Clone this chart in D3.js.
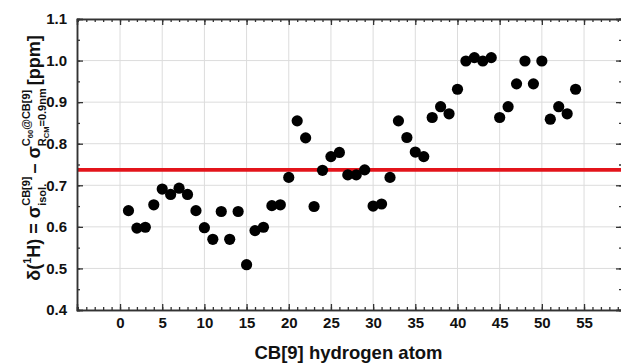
<!DOCTYPE html>
<html>
<head>
<meta charset="utf-8">
<script src="https://cdn.jsdelivr.net/npm/d3@7"></script>
<style>
  body { margin: 0; background: #fff; }
  svg text { font-family: "Liberation Sans", Arial, sans-serif; font-weight: bold; }
</style>
</head>
<body>
<script>
// data
const atoms = [1, 2, 3, 4, 5, 6, 7, 8, 9, 10, 11, 12, 13, 14, 15, 16, 17, 18,
  19, 20, 21, 22, 23, 24, 25, 26, 27, 28, 29, 30, 31, 32, 33, 34, 35, 36,
  37, 38, 39, 40, 41, 42, 43, 44, 45, 46, 47, 48, 49, 50, 51, 52, 53, 54];
const shifts = [0.639, 0.597, 0.599, 0.653, 0.691, 0.678, 0.693, 0.678, 0.639,
  0.598, 0.570, 0.637, 0.570, 0.637, 0.509, 0.591, 0.599, 0.651, 0.653, 0.719,
  0.855, 0.814, 0.649, 0.736, 0.769, 0.779, 0.725, 0.725, 0.737, 0.650, 0.655,
  0.719, 0.855, 0.815, 0.780, 0.769, 0.863, 0.889, 0.872, 0.931, 0.999, 1.007,
  0.999, 1.007, 0.863, 0.889, 0.944, 0.999, 0.944, 0.999, 0.859, 0.889, 0.872,
  0.931];
const meanShift = 0.737;
const xTicks = [0, 5, 10, 15, 20, 25, 30, 35, 40, 45, 50, 55];
const yTicks = [0.4, 0.5, 0.6, 0.7, 0.8, 0.9, 1.0, 1.1];

const width = 621;
const height = 364;
const plot = { left: 77, right: 622, top: 19, bottom: 310 };

const x = d3.scaleLinear().domain([-5.1, 59.5]).range([plot.left, plot.right]);
const y = d3.scaleLinear().domain([0.4, 1.1]).range([plot.bottom, plot.top]);

const svg = d3.select('body').append('svg')
  .attr('width', width)
  .attr('height', height);

// grid
svg.append('g')
  .selectAll('line')
  .data(xTicks)
  .join('line')
  .attr('x1', (d) => x(d)).attr('x2', (d) => x(d))
  .attr('y1', plot.top).attr('y2', plot.bottom)
  .attr('stroke', '#dcdcdc');
svg.append('g')
  .selectAll('line')
  .data(yTicks)
  .join('line')
  .attr('x1', plot.left).attr('x2', plot.right)
  .attr('y1', (d) => y(d)).attr('y2', (d) => y(d))
  .attr('stroke', '#dcdcdc');

// mean line
svg.append('line')
  .attr('x1', plot.left).attr('x2', plot.right)
  .attr('y1', y(meanShift)).attr('y2', y(meanShift))
  .attr('stroke', '#e3141b')
  .attr('stroke-width', 3.8);

// points
svg.append('g')
  .selectAll('circle')
  .data(atoms)
  .join('circle')
  .attr('cx', (d) => x(d))
  .attr('cy', (d, i) => y(shifts[i]))
  .attr('r', 5.6)
  .attr('fill', '#000');

// axes, ticks pointing inward
const minorX = d3.range(-5, 60, 1);
const minorY = d3.range(0.4, 1.1001, 0.05);

function styleAxis(g) {
  g.select('.domain').attr('stroke', '#333').attr('stroke-width', 1.5);
  g.selectAll('.tick line').attr('stroke', '#333').attr('stroke-width', 1.3);
  g.selectAll('.tick text').attr('font-size', 15).attr('fill', '#111');
}

const axes = [
  [d3.axisBottom, `translate(0,${plot.bottom})`, x, xTicks, minorX, true],
  [d3.axisTop, `translate(0,${plot.top})`, x, xTicks, minorX, false],
  [d3.axisLeft, `translate(${plot.left},0)`, y, yTicks, minorY, true],
  [d3.axisRight, `translate(${plot.right},0)`, y, yTicks, minorY, false],
];
axes.forEach(([axisFn, tr, scale, major, minor, labels]) => {
  svg.append('g').attr('transform', tr)
    .call(axisFn(scale).tickValues(minor).tickSize(-3).tickFormat(''))
    .call(styleAxis);
  svg.append('g').attr('transform', tr)
    .call(axisFn(scale).tickValues(major).tickSize(-6)
      .tickPadding(axisFn === d3.axisLeft ? 10 : 7)
      .tickFormat(labels ? (scale === y ? d3.format('.1f') : d3.format('d')) : ''))
    .call(styleAxis);
});

// x title
svg.append('text')
  .attr('x', (plot.left + 620) / 2)
  .attr('y', 359)
  .attr('text-anchor', 'middle')
  .attr('font-size', 18.5)
  .attr('fill', '#111')
  .text('CB[9] hydrogen atom');

// y title, built piece by piece
const yTitle = svg.append('g');
let cursor = 0;
function piece(txt, size, dy, advance = true) {
  const t = yTitle.append('text')
    .attr('x', cursor).attr('y', dy)
    .attr('font-size', size)
    .attr('fill', '#111')
    .text(txt);
  const w = t.node().getComputedTextLength();
  if (advance) cursor += w;
  return w;
}
const big = 18;
const small = 11;
const tiny = 7.5;
piece('δ(', big, 0);
piece('1', small, -9);
piece('H) = σ', big, 0);
let start = cursor;
const w1 = piece('CB[9]', small, -10, false);
const w2 = piece('isol.', small, 6, false);
cursor = start + Math.max(w1, w2) + 3;
piece(' – σ', big, 0);
start = cursor;
piece('C', small, -10);
piece('60', tiny, -7);
piece('@CB[9]', small, -10);
const endSup = cursor;
cursor = start;
piece('R', small, 6);
piece('CM', tiny, 9);
piece('=0.9nm', small, 6);
cursor = Math.max(cursor, endSup) + 3;
piece(' [ppm]', big, 0);
const titleLen = cursor;
yTitle.attr('transform', `translate(40,${158 + titleLen / 2}) rotate(-90)`);
</script>
</body>
</html>
